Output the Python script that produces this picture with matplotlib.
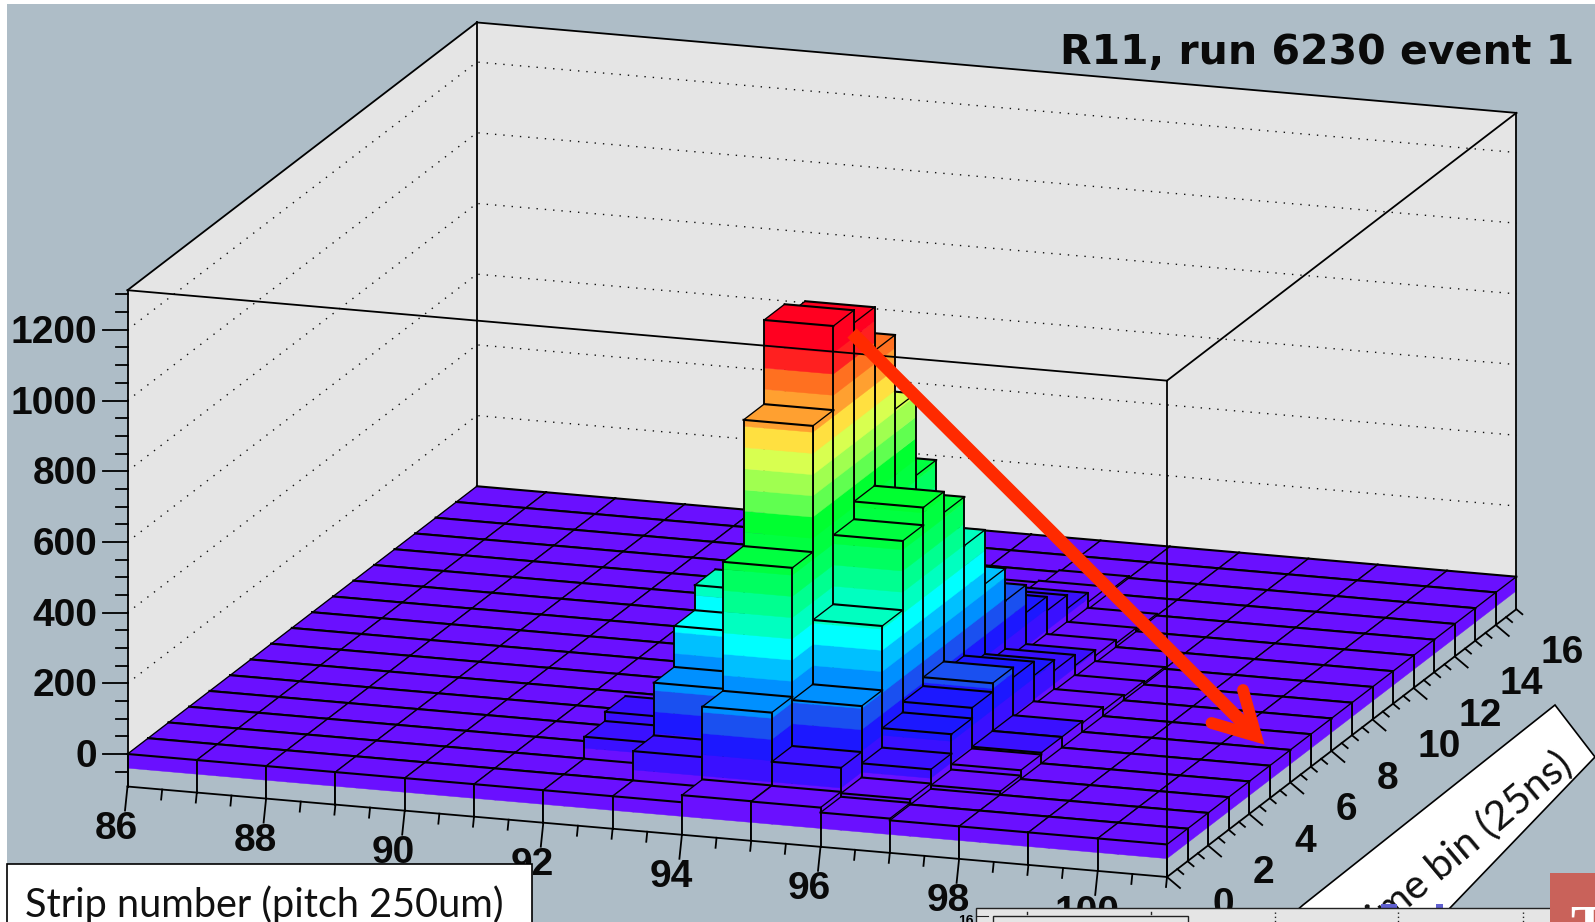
import matplotlib
matplotlib.use('Agg')
import matplotlib.pyplot as plt
from matplotlib.patches import Polygon, Rectangle

# strip number axis (one bin per strip), time bin axis
strip_first = 86
n_strips = 15
n_times = 17
z_min, z_max = -92, 1312

# heights: one row per time bin, one value per strip (86..100)
row_00 = [0, 0, 0, 0, 0, 0, 0, 0, 20, 19, 5, 0, 0, 0, 0]
row_01 = [0, 0, 0, 0, 0, 0, 0, 83, 226, 87, 15, 0, 0, 0, 0]
row_02 = [0, 0, 0, 0, 0, 0, 62, 232, 591, 217, 55, 10, 0, 0, 0]
row_03 = [0, 0, 0, 0, 0, 0, 88, 348, 948, 399, 110, 25, 0, 0, 0]
row_04 = [0, 0, 0, 0, 0, 0, 10, 419, 1186, 595, 140, 30, 0, 0, 0]
row_05 = [0, 0, 0, 0, 0, 0, 0, 25, 1150, 645, 165, 30, 0, 0, 0]
row_06 = [0, 0, 0, 0, 0, 0, 0, 10, 1027, 586, 137, 25, 0, 0, 0]
row_07 = [0, 0, 0, 0, 0, 0, 0, 0, 817, 448, 97, 15, 0, 0, 0]
row_08 = [0, 0, 0, 0, 0, 0, 0, 0, 584, 295, 67, 10, 0, 0, 0]
row_09 = [0, 0, 0, 0, 0, 0, 0, 0, 300, 203, 36, 5, 0, 0, 0]
row_10 = [0, 0, 0, 0, 0, 0, 0, 0, 100, 125, 20, 0, 0, 0, 0]
row_11 = [0, 0, 0, 0, 0, 0, 0, 0, 60, 85, 10, 0, 0, 0, 0]
row_12 = [0, 0, 0, 0, 0, 0, 0, 0, 40, 47, 5, 0, 0, 0, 0]
row_13 = [0, 0, 0, 0, 0, 0, 0, 0, 15, 20, 0, 0, 0, 0, 0]
row_14 = [0, 0, 0, 0, 0, 0, 0, 0, 0, 5, 0, 0, 0, 0, 0]
row_15 = [0, 0, 0, 0, 0, 0, 0, 0, 0, 0, 0, 0, 0, 0, 0]
row_16 = [0, 0, 0, 0, 0, 0, 0, 0, 0, 0, 0, 0, 0, 0, 0]
heights = [row_00, row_01, row_02, row_03, row_04, row_05, row_06, row_07, row_08,
           row_09, row_10, row_11, row_12, row_13, row_14, row_15, row_16]

# contour bands, the first one starts a little lower than the step says
level_floor = -40
level_start = -30
level_step = 60
band_colors = ['#6a10ff', '#3a10ff', '#1c18ff', '#1a50f0', '#0090ff', '#00c0ff', '#00ffff',
               '#00ffc0', '#00ff90', '#00ff60', '#00ff40', '#00ff30', '#60ff50', '#a0ff50',
               '#d8ff50', '#ffe040', '#ffa030', '#ff7020', '#ff2020', '#ff0020']

z_major = [0, 200, 400, 600, 800, 1000, 1200]
x_major = [86, 88, 90, 92, 94, 96, 98, 100]
y_major = [0, 2, 4, 6, 8, 10, 12, 14, 16]

pad_color = '#aebdc7'
wall_color = '#e5e5e5'
line_w = 1.3
heavy_w = 1.5
side_w = 1.35
thin_w = 0.95


def project(i, j, z):
    # oblique lego view, i = strip index, j = time bin, in picture pixels
    px = 127.5 + 69.3 * i + 20.55 * j
    py = 754 + 6.03 * i - 15.75 * j - 0.3535 * z
    return px, py


def band_of(z):
    return min(max(int((z - level_start) // level_step), 0), len(band_colors) - 1)


def fill_quad(pts, color, zo):
    ax.fill([p[0] for p in pts], [p[1] for p in pts], fc=color, ec=color, lw=0.3, zorder=zo)


def edge(a, b, w, zo):
    ax.plot([a[0], b[0]], [a[1], b[1]], color='black', lw=w, solid_capstyle='projecting', zorder=zo)


def draw_face(a, b, top, zo):
    # vertical face split in colour bands, below the first level it is pad colour
    fill_quad([project(*a, z_min), project(*b, z_min), project(*b, level_floor),
               project(*a, level_floor)], pad_color, zo)
    last = band_of(top)
    for k in range(last + 1):
        lo = level_start + k * level_step
        hi = top if k == last else lo + level_step
        if k == 0:
            lo = level_floor
        if hi > lo:
            fill_quad([project(*a, lo), project(*b, lo), project(*b, hi), project(*a, hi)],
                      band_colors[k], zo)
    edge(project(*a, z_min), project(*a, top), side_w, zo)
    edge(project(*b, z_min), project(*b, top), side_w, zo)


fig = plt.figure(figsize=(15.95, 9.22), dpi=100, facecolor='white')
ax = fig.add_axes([0, 0, 1, 1])
ax.set_xlim(0, 1595)
ax.set_ylim(922, 0)
ax.axis('off')

ax.add_patch(Rectangle((7, 4), 1588, 918, fc=pad_color, ec='none', zorder=0))

# walls
ax.add_patch(Polygon([project(0, 0, 0), project(0, n_times, 0), project(0, n_times, z_max),
                      project(0, 0, z_max)], fc=wall_color, ec='none', zorder=1))
ax.add_patch(Polygon([project(0, n_times, 0), project(n_strips, n_times, 0),
                      project(n_strips, n_times, z_max), project(0, n_times, z_max)],
                     fc=wall_color, ec='none', zorder=1))

# dotted grid on the walls
for z in z_major[1:]:
    pts = [project(0, 0, z), project(0, n_times, z), project(n_strips, n_times, z)]
    ax.plot([p[0] for p in pts], [p[1] for p in pts], color='#111111', lw=1.0,
            ls=(0, (1, 5)), zorder=2)

# lego bars, back to front so the near ones hide the far ones
zo = 3.0
for j in range(n_times - 1, -1, -1):
    for i in range(n_strips):
        h = heights[j][i]
        zo += 0.001
        draw_face((i + 1, j), (i + 1, j + 1), h, zo)
        draw_face((i, j), (i + 1, j), h, zo)
        fill_quad([project(i, j, h), project(i + 1, j, h), project(i + 1, j + 1, h),
                   project(i, j + 1, h)], band_colors[band_of(h)], zo)
        # lines along the strip axis look heavier than the ones along the time axis
        edge(project(i, j, h), project(i + 1, j, h), heavy_w, zo)
        edge(project(i, j + 1, h), project(i + 1, j + 1, h), heavy_w, zo)
        edge(project(i, j, h), project(i, j + 1, h), thin_w, zo)
        edge(project(i + 1, j, h), project(i + 1, j + 1, h), thin_w, zo)
frame_z = zo + 1


def box_line(a, b):
    ax.plot([project(*a)[0], project(*b)[0]], [project(*a)[1], project(*b)[1]],
            color='black', lw=line_w, zorder=frame_z)


# frame of the box
box_line((0, 0, z_min), (0, 0, z_max))
box_line((0, 0, z_max), (0, n_times, z_max))
box_line((0, n_times, z_max), (n_strips, n_times, z_max))
box_line((0, 0, z_max), (n_strips, 0, z_max))
box_line((n_strips, 0, z_max), (n_strips, n_times, z_max))
box_line((n_strips, 0, z_max), (n_strips, 0, z_min))
box_line((n_strips, n_times, z_max), (n_strips, n_times, 0))
box_line((0, n_times, z_max), (0, n_times, 0))
box_line((0, 0, z_min), (n_strips, 0, z_min))
box_line((n_strips, 0, z_min), (n_strips, n_times, z_min))

label_font = dict(family='Liberation Sans', fontweight='bold', fontsize=28, color='#0a0a0a')

# z axis ticks
z = -50
while z <= z_max:
    px, py = project(0, 0, z)
    ln = 25 if z in z_major else 12
    ax.plot([px - ln, px], [py, py], color='black', lw=line_w, zorder=frame_z)
    z += 50
for z in z_major:
    px, py = project(0, 0, z)
    ax.text(px - 30, py - 1, str(z), ha='right', va='center_baseline', zorder=frame_z, **label_font)

# strip axis ticks
t = 0.0
while t <= n_strips + 0.01:
    px, py = project(t, 0, z_min)
    major = (t * 2) % 4 == 0
    dx, dy = (-2.5, 24) if major else (-1, 10)
    ax.plot([px, px + dx], [py, py + dy], color='black', lw=line_w, zorder=frame_z)
    t += 0.5
for v in x_major:
    px, py = project(v - strip_first, 0, z_min)
    ax.text(px - 11, py + 38, str(v), ha='center', va='center_baseline', zorder=frame_z, **label_font)

# time axis ticks
t = 0.0
while t <= n_times + 0.01:
    px, py = project(n_strips, t, z_min)
    major = (t * 2) % 4 == 0
    dx, dy = (13, 11) if major else (6, 5)
    ax.plot([px, px + dx], [py, py + dy], color='black', lw=line_w, zorder=frame_z)
    t += 0.5
for v in y_major:
    px, py = project(n_strips, v, z_min)
    ax.text(px + 45, py + 24, str(v), ha='left', va='center_baseline', zorder=frame_z, **label_font)

top_z = frame_z + 1

# title
ax.text(1574, 48, 'R11, run 6230 event 1', ha='right', va='center_baseline',
        family='DejaVu Sans', fontweight='bold', fontsize=29.5, color='#0a0a0a', zorder=top_z)

# red arrow from the peak to the front edge
arrow_red = '#ff2a00'
ax.plot([852, 1256], [333, 736], color=arrow_red, lw=9.4, solid_capstyle='butt', zorder=top_z)
ax.plot([1243, 1256, 1211.5], [690, 736, 723], color=arrow_red, lw=8.5, solid_capstyle='round',
        solid_joinstyle='miter', zorder=top_z)

# x title box
ax.add_patch(Rectangle((7, 864), 525, 70, fc='white', ec='black', lw=1.2, zorder=top_z + 1))
ax.text(25, 917, 'Strip number (pitch 250um)', ha='left', va='baseline', family='Lato',
        fontsize=28.5, color='#111111', zorder=top_z + 2)

# y title box, cut off by the panel below it
ax.add_patch(Polygon([(1555, 705), (1303, 905), (1240, 960), (1400, 960), (1595, 757)],
                     fc='white', ec='black', lw=1.2, zorder=top_z + 1))
ax.text(1567, 760, 'Time bin (25ns)', ha='right', va='center', rotation=40, rotation_mode='anchor',
        family='Lato', fontsize=29.5, color='#111111', zorder=top_z + 2)

# part of another plot pasted at the bottom
ax.add_patch(Rectangle((976, 908), 600, 30, fc=wall_color, ec='#222222', lw=1.0, zorder=top_z + 3))
ax.add_patch(Rectangle((993, 916), 195, 30, fc=wall_color, ec='#222222', lw=1.0, zorder=top_z + 3))
ax.plot([976, 988], [916, 916], color='#222222', lw=0.8, zorder=top_z + 3)
for px in [1027, 1151]:
    ax.plot([px, px], [912, 914], color='#222222', lw=1.0, zorder=top_z + 3)
for px in [1275, 1398, 1523]:
    ax.plot([px, px], [912, 922], color='#222222', lw=1.0, ls=(0, (1, 2)), zorder=top_z + 3)
ax.text(974, 921, '16', ha='right', va='center', fontsize=10, fontweight='bold',
        family='Liberation Sans', zorder=top_z + 3)
ax.add_patch(Rectangle((1381, 904), 16, 4, fc='#6060d0', ec='none', zorder=top_z + 2))
ax.add_patch(Rectangle((1436, 904), 7, 4, fc='#6060d0', ec='none', zorder=top_z + 2))

ax.add_patch(Rectangle((1550, 873), 60, 60, fc='#c9625a', ec='none', zorder=top_z + 4))
ax.text(1570, 945, 'T', ha='left', va='baseline', family='Liberation Serif', fontweight='bold',
        fontsize=40, color='white', zorder=top_z + 5, clip_on=True)

fig.savefig('out.png', dpi=100)
